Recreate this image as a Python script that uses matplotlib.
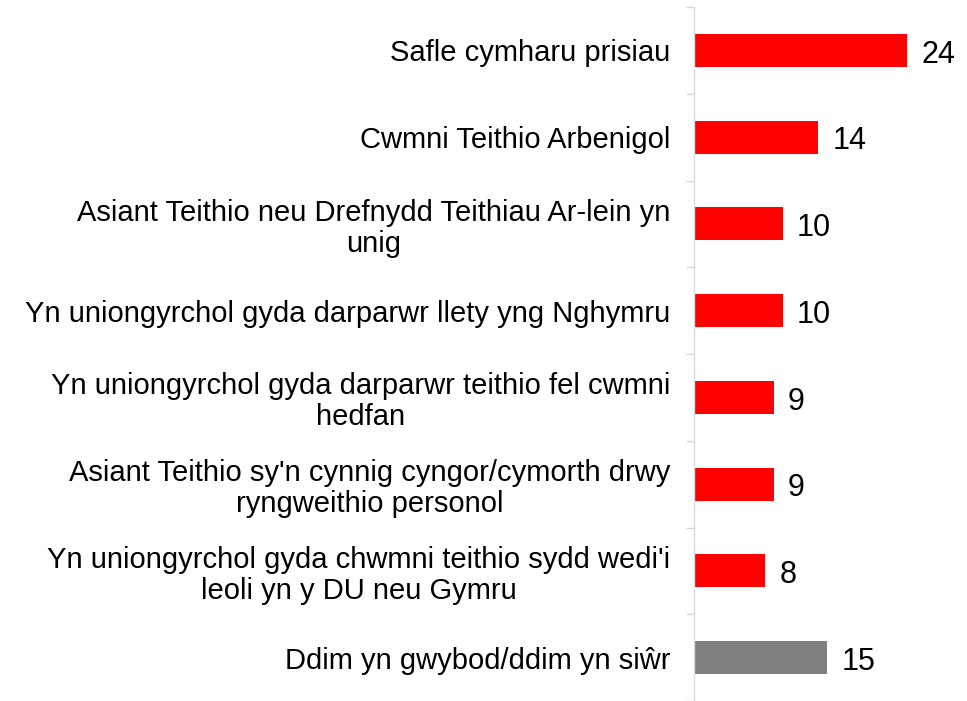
import numpy as np
import matplotlib.pyplot as plt

plt.rcParams['font.family'] = ['Liberation Sans', 'DejaVu Sans']

labels = [
    "Safle cymharu prisiau",
    "Cwmni Teithio Arbenigol",
    "Asiant Teithio neu Drefnydd Teithiau Ar-lein yn\nunig",
    "Yn uniongyrchol gyda darparwr llety yng Nghymru",
    "Yn uniongyrchol gyda darparwr teithio fel cwmni\nhedfan",
    "Asiant Teithio sy'n cynnig cyngor/cymorth drwy\nryngweithio personol",
    "Yn uniongyrchol gyda chwmni teithio sydd wedi'i\nleoli yn y DU neu Gymru",
    "Ddim yn gwybod/ddim yn siŵr",
]
values = [24, 14, 10, 10, 9, 9, 8, 15]
colors = ['#ff0000'] * 7 + ['#808080']

fig = plt.figure(figsize=(9.67, 7.01), dpi=100)
ax = fig.add_axes([694 / 967, 0, 273 / 967, 694 / 701])

y = np.arange(len(values))
ax.barh(y, values, height=0.38, color=colors)
ax.set_ylim(len(values) - 0.5, -0.5)
ax.set_xlim(0, 273 / 8.875)

for yi, v in zip(y, values):
    ax.text(v + 1.6, yi + 0.05, str(v), va='center', ha='left', fontsize=22)

ax.set_yticks(y)
ax.set_yticklabels(labels, fontsize=21, multialignment='center', linespacing=1.13)
ax.set_yticks(np.arange(-0.5, len(values) + 0.5, 1), minor=True)
ax.tick_params(axis='y', which='major', length=0, pad=17)
ax.tick_params(axis='y', which='minor', length=6, width=1, color='#d9d9d9')
ax.set_xticks([])

for s in ['top', 'right', 'bottom']:
    ax.spines[s].set_visible(False)
ax.spines['left'].set_color('#d9d9d9')
ax.spines['left'].set_linewidth(1)

fig.savefig('out.png', dpi=100)
